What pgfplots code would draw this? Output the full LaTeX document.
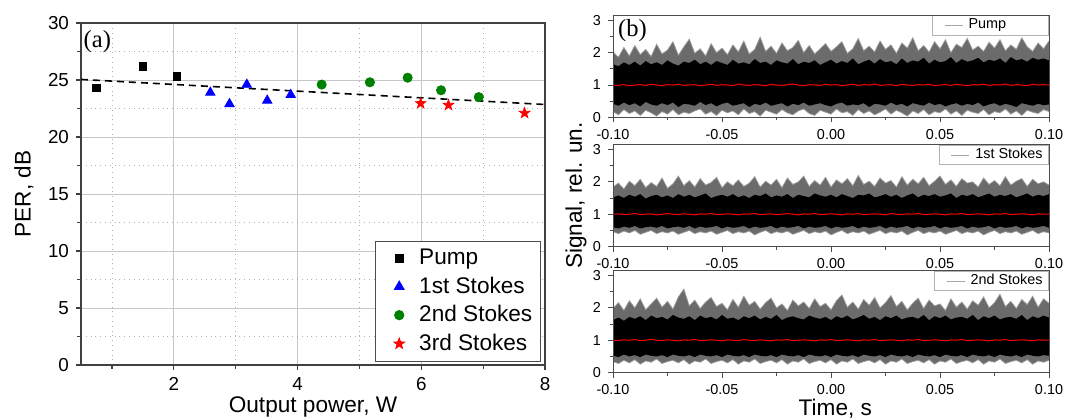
\documentclass[border=0pt]{standalone}
\usepackage{fontspec}
\setmainfont{Liberation Sans}
\newfontfamily\timesfont{Liberation Serif}
\usepackage{pgfplots}
\pgfplotsset{compat=1.18}
\usepackage{pgfplotstable}
\usepgfplotslibrary{fillbetween}

\definecolor{ogreen}{RGB}{0,128,0}

% filled five-pointed star
\pgfdeclareplotmark{fstar}{%
  \pgfpathmoveto{\pgfpointpolar{90}{1.3\pgfplotmarksize}}%
  \pgfpathlineto{\pgfpointpolar{126}{0.52\pgfplotmarksize}}%
  \pgfpathlineto{\pgfpointpolar{162}{1.3\pgfplotmarksize}}%
  \pgfpathlineto{\pgfpointpolar{198}{0.52\pgfplotmarksize}}%
  \pgfpathlineto{\pgfpointpolar{234}{1.3\pgfplotmarksize}}%
  \pgfpathlineto{\pgfpointpolar{270}{0.52\pgfplotmarksize}}%
  \pgfpathlineto{\pgfpointpolar{306}{1.3\pgfplotmarksize}}%
  \pgfpathlineto{\pgfpointpolar{342}{0.52\pgfplotmarksize}}%
  \pgfpathlineto{\pgfpointpolar{18}{1.3\pgfplotmarksize}}%
  \pgfpathlineto{\pgfpointpolar{54}{0.52\pgfplotmarksize}}%
  \pgfpathclose
  \pgfusepathqfillstroke
}

% noise envelopes: outer spikes (ohi/olo), dense core (ihi/ilo), running mean r
\pgfplotstableread{
t ohi ihi ilo olo r
-0.1000 2.02 1.64 0.42 0.18 1.00
-0.0975 1.86 1.58 0.36 0.08 0.99
-0.0950 2.16 1.70 0.46 0.24 1.01
-0.0925 1.90 1.62 0.38 0.12 0.98
-0.0900 2.22 1.72 0.44 0.20 1.00
-0.0875 1.94 1.60 0.34 0.06 1.01
-0.0850 2.10 1.74 0.48 0.22 0.99
-0.0825 1.88 1.64 0.40 0.14 1.02
-0.0800 2.26 1.70 0.36 0.04 1.00
-0.0775 1.96 1.62 0.44 0.18 0.98
-0.0750 2.08 1.76 0.38 0.10 1.01
-0.0725 2.34 1.66 0.46 0.24 1.00
-0.0700 1.92 1.60 0.32 0.08 1.02
-0.0675 2.18 1.72 0.42 0.16 0.99
-0.0650 2.42 1.68 0.40 0.12 1.00
-0.0625 1.98 1.78 0.36 0.20 1.01
-0.0600 2.12 1.64 0.48 0.26 0.98
-0.0575 1.90 1.72 0.38 0.10 1.00
-0.0550 2.28 1.62 0.44 0.18 1.02
-0.0525 2.00 1.74 0.34 0.06 0.99
-0.0500 2.14 1.68 0.42 0.22 1.01
-0.0475 1.94 1.62 0.46 0.14 1.00
-0.0450 2.24 1.78 0.36 0.20 0.98
-0.0425 2.02 1.66 0.40 0.08 1.03
-0.0400 2.36 1.70 0.44 0.26 1.00
-0.0375 1.96 1.64 0.32 0.12 0.99
-0.0350 2.10 1.80 0.42 0.18 1.01
-0.0325 2.48 1.68 0.38 0.04 1.00
-0.0300 2.04 1.72 0.46 0.22 0.98
-0.0275 2.20 1.62 0.36 0.16 1.02
-0.0250 1.98 1.76 0.40 0.10 1.00
-0.0225 2.30 1.70 0.44 0.24 0.99
-0.0200 2.06 1.66 0.34 0.14 1.01
-0.0175 2.16 1.80 0.42 0.08 1.03
-0.0150 2.38 1.64 0.38 0.20 1.00
-0.0125 2.00 1.72 0.46 0.26 0.98
-0.0100 2.22 1.68 0.36 0.12 1.01
-0.0075 1.96 1.76 0.40 0.06 1.00
-0.0050 2.12 1.62 0.44 0.22 0.99
-0.0025 2.28 1.70 0.38 0.16 1.02
0.0000 2.04 1.78 0.34 0.10 1.00
0.0025 2.18 1.66 0.42 0.26 1.01
0.0050 2.34 1.74 0.46 0.14 0.98
0.0075 1.98 1.68 0.36 0.18 1.00
0.0100 2.12 1.82 0.40 0.06 1.02
0.0125 2.44 1.64 0.38 0.24 0.99
0.0150 2.06 1.72 0.44 0.12 1.01
0.0175 2.20 1.78 0.32 0.20 1.00
0.0200 2.02 1.66 0.42 0.08 1.03
0.0225 2.36 1.80 0.40 0.16 0.99
0.0250 2.10 1.70 0.36 0.26 1.00
0.0275 2.24 1.74 0.46 0.10 1.01
0.0300 1.98 1.64 0.38 0.22 0.98
0.0325 2.30 1.82 0.42 0.14 1.02
0.0350 2.14 1.68 0.34 0.04 1.00
0.0375 2.46 1.76 0.44 0.20 0.99
0.0400 2.06 1.72 0.40 0.12 1.01
0.0425 2.22 1.84 0.36 0.24 1.00
0.0450 2.02 1.66 0.46 0.08 1.02
0.0475 2.34 1.78 0.38 0.18 0.98
0.0500 2.12 1.70 0.42 0.14 1.00
0.0525 2.40 1.74 0.34 0.26 1.01
0.0550 2.00 1.86 0.40 0.10 0.99
0.0575 2.26 1.68 0.44 0.20 1.02
0.0600 2.16 1.80 0.36 0.06 1.00
0.0625 2.44 1.72 0.42 0.22 0.98
0.0650 2.08 1.76 0.38 0.16 1.01
0.0675 2.20 1.84 0.46 0.12 1.00
0.0700 2.04 1.70 0.34 0.24 1.02
0.0725 2.32 1.78 0.40 0.08 0.99
0.0750 2.14 1.74 0.44 0.18 1.01
0.0775 2.40 1.82 0.36 0.14 1.00
0.0800 2.06 1.68 0.42 0.26 1.03
0.0825 2.24 1.86 0.38 0.10 0.99
0.0850 2.10 1.76 0.32 0.20 1.01
0.0875 2.46 1.80 0.44 0.06 1.00
0.0900 2.18 1.72 0.40 0.22 0.98
0.0925 2.04 1.84 0.36 0.16 1.02
0.0950 2.30 1.78 0.42 0.12 1.00
0.0975 2.12 1.82 0.38 0.24 1.01
0.1000 2.36 1.76 0.40 0.18 1.00
}\pumpdata

\pgfplotstableread{
t ohi ihi ilo olo r
-0.1000 1.84 1.52 0.60 0.46 1.00
-0.0975 1.96 1.58 0.56 0.40 1.01
-0.0950 1.78 1.50 0.62 0.48 0.99
-0.0925 2.02 1.60 0.58 0.42 1.00
-0.0900 1.88 1.54 0.64 0.50 1.02
-0.0875 2.08 1.62 0.56 0.38 0.99
-0.0850 1.82 1.48 0.60 0.44 1.00
-0.0825 1.98 1.56 0.62 0.50 1.01
-0.0800 1.86 1.60 0.58 0.40 0.98
-0.0775 2.12 1.52 0.64 0.46 1.00
-0.0750 1.80 1.58 0.56 0.42 1.02
-0.0725 1.94 1.50 0.60 0.48 1.00
-0.0700 2.18 1.62 0.62 0.38 0.99
-0.0675 1.88 1.54 0.58 0.44 1.01
-0.0650 2.04 1.60 0.64 0.50 1.00
-0.0625 1.84 1.52 0.56 0.40 0.98
-0.0600 2.10 1.58 0.62 0.46 1.01
-0.0575 1.90 1.64 0.58 0.42 1.00
-0.0550 1.98 1.50 0.60 0.48 1.02
-0.0525 2.14 1.56 0.64 0.38 0.99
-0.0500 1.82 1.60 0.56 0.44 1.00
-0.0475 2.00 1.54 0.62 0.50 1.01
-0.0450 1.88 1.62 0.58 0.40 1.00
-0.0425 2.06 1.52 0.60 0.46 0.98
-0.0400 1.86 1.58 0.64 0.42 1.01
-0.0375 1.96 1.50 0.56 0.48 1.00
-0.0350 2.16 1.60 0.62 0.36 1.02
-0.0325 1.84 1.56 0.58 0.44 0.99
-0.0300 2.02 1.64 0.60 0.50 1.00
-0.0275 1.90 1.52 0.64 0.40 1.01
-0.0250 2.08 1.58 0.56 0.46 0.99
-0.0225 1.82 1.54 0.62 0.42 1.00
-0.0200 2.12 1.62 0.58 0.48 1.02
-0.0175 1.92 1.50 0.60 0.38 1.00
-0.0150 2.00 1.60 0.64 0.44 0.98
-0.0125 2.18 1.56 0.56 0.50 1.01
-0.0100 1.86 1.52 0.62 0.40 1.00
-0.0075 2.04 1.64 0.58 0.46 1.02
-0.0050 1.90 1.58 0.60 0.42 0.99
-0.0025 2.14 1.54 0.64 0.48 1.00
0.0000 1.84 1.60 0.56 0.36 1.01
0.0025 2.06 1.52 0.62 0.44 1.00
0.0050 1.94 1.62 0.58 0.50 0.98
0.0075 2.10 1.56 0.60 0.40 1.01
0.0100 1.88 1.50 0.64 0.46 1.00
0.0125 2.20 1.60 0.56 0.42 1.02
0.0150 1.92 1.58 0.62 0.48 0.99
0.0175 2.02 1.64 0.58 0.38 1.00
0.0200 1.86 1.52 0.60 0.44 1.01
0.0225 2.12 1.56 0.64 0.50 1.00
0.0250 1.96 1.62 0.56 0.40 0.98
0.0275 2.04 1.54 0.62 0.46 1.02
0.0300 1.84 1.60 0.58 0.42 1.00
0.0325 2.16 1.50 0.60 0.48 0.99
0.0350 1.90 1.58 0.64 0.36 1.01
0.0375 2.08 1.64 0.56 0.44 1.00
0.0400 1.94 1.52 0.62 0.50 1.02
0.0425 2.14 1.60 0.58 0.40 0.99
0.0450 1.88 1.56 0.60 0.46 1.00
0.0475 2.02 1.62 0.64 0.42 1.01
0.0500 2.18 1.54 0.56 0.48 1.00
0.0525 1.92 1.58 0.62 0.38 0.98
0.0550 2.06 1.64 0.58 0.44 1.01
0.0575 1.86 1.50 0.60 0.50 1.00
0.0600 2.10 1.60 0.64 0.40 1.02
0.0625 1.96 1.56 0.56 0.46 0.99
0.0650 2.00 1.62 0.62 0.42 1.00
0.0675 1.84 1.52 0.58 0.48 1.01
0.0700 2.12 1.58 0.60 0.36 1.00
0.0725 1.92 1.64 0.64 0.44 0.98
0.0750 2.04 1.54 0.56 0.50 1.01
0.0775 1.88 1.60 0.62 0.40 1.00
0.0800 2.16 1.56 0.58 0.46 1.02
0.0825 1.90 1.62 0.60 0.42 0.99
0.0850 2.02 1.52 0.64 0.48 1.00
0.0875 2.10 1.58 0.56 0.38 1.01
0.0900 1.86 1.64 0.62 0.44 1.00
0.0925 2.08 1.54 0.58 0.50 0.98
0.0950 1.94 1.60 0.60 0.40 1.01
0.0975 2.00 1.56 0.64 0.46 1.00
0.1000 1.90 1.62 0.58 0.42 1.00
}\firstdata

\pgfplotstableread{
t ohi ihi ilo olo r
-0.1000 1.98 1.62 0.52 0.34 1.00
-0.0975 2.16 1.70 0.48 0.28 0.99
-0.0950 1.92 1.60 0.56 0.38 1.01
-0.0925 2.22 1.72 0.50 0.30 1.00
-0.0900 2.00 1.66 0.54 0.40 1.02
-0.0875 2.28 1.74 0.48 0.26 0.99
-0.0850 1.94 1.62 0.56 0.36 1.00
-0.0825 2.12 1.76 0.52 0.32 1.03
-0.0800 2.30 1.68 0.50 0.42 1.00
-0.0775 2.02 1.72 0.54 0.28 0.99
-0.0750 2.20 1.64 0.48 0.34 1.01
-0.0725 1.96 1.78 0.56 0.38 1.00
-0.0700 2.34 1.70 0.52 0.30 0.98
-0.0675 2.58 1.66 0.50 0.40 1.01
-0.0650 2.06 1.74 0.54 0.26 1.00
-0.0625 2.24 1.62 0.48 0.36 1.02
-0.0600 1.98 1.76 0.56 0.32 0.99
-0.0575 2.18 1.68 0.52 0.42 1.00
-0.0550 2.32 1.72 0.50 0.28 1.01
-0.0525 2.04 1.64 0.54 0.34 1.00
-0.0500 2.14 1.78 0.48 0.38 0.98
-0.0475 1.94 1.66 0.56 0.30 1.01
-0.0450 2.26 1.70 0.52 0.40 1.00
-0.0425 2.02 1.62 0.50 0.26 0.99
-0.0400 2.36 1.74 0.54 0.36 1.02
-0.0375 2.08 1.68 0.48 0.32 1.00
-0.0350 2.20 1.76 0.56 0.42 0.99
-0.0325 1.96 1.64 0.52 0.28 1.01
-0.0300 2.16 1.72 0.50 0.34 1.00
-0.0275 2.30 1.66 0.54 0.38 0.98
-0.0250 2.00 1.78 0.48 0.30 1.01
-0.0225 2.12 1.62 0.56 0.40 1.00
-0.0200 1.92 1.70 0.52 0.26 1.02
-0.0175 2.24 1.74 0.50 0.36 0.99
-0.0150 2.06 1.68 0.54 0.32 1.00
-0.0125 2.18 1.64 0.48 0.42 1.01
-0.0100 1.98 1.76 0.56 0.28 1.00
-0.0075 2.28 1.70 0.52 0.34 0.98
-0.0050 2.04 1.66 0.50 0.38 1.01
-0.0025 2.14 1.72 0.54 0.30 1.00
0.0000 1.94 1.62 0.48 0.40 1.02
0.0025 2.22 1.74 0.56 0.26 0.99
0.0050 2.40 1.68 0.52 0.36 1.00
0.0075 2.02 1.76 0.50 0.32 1.01
0.0100 2.18 1.64 0.54 0.42 1.00
0.0125 1.96 1.70 0.48 0.28 0.98
0.0150 2.26 1.78 0.56 0.34 1.01
0.0175 2.08 1.66 0.52 0.38 1.00
0.0200 2.32 1.72 0.50 0.30 1.02
0.0225 2.00 1.62 0.54 0.40 0.99
0.0250 2.16 1.74 0.48 0.26 1.00
0.0275 2.38 1.68 0.56 0.36 1.01
0.0300 2.04 1.76 0.52 0.32 1.00
0.0325 2.20 1.64 0.50 0.42 0.98
0.0350 1.94 1.70 0.54 0.28 1.01
0.0375 2.14 1.72 0.48 0.34 1.00
0.0400 2.30 1.66 0.56 0.38 1.02
0.0425 1.98 1.78 0.52 0.30 0.99
0.0450 2.24 1.62 0.50 0.40 1.00
0.0475 2.06 1.74 0.54 0.26 1.01
0.0500 2.12 1.68 0.48 0.36 1.00
0.0525 1.92 1.76 0.56 0.32 0.98
0.0550 2.28 1.64 0.52 0.42 1.01
0.0575 2.02 1.70 0.50 0.28 1.00
0.0600 2.18 1.72 0.54 0.34 1.02
0.0625 1.96 1.66 0.48 0.38 0.99
0.0650 2.22 1.78 0.56 0.30 1.00
0.0675 2.08 1.62 0.52 0.40 1.01
0.0700 2.34 1.74 0.50 0.26 1.00
0.0725 2.00 1.68 0.54 0.36 0.98
0.0750 2.16 1.76 0.48 0.32 1.01
0.0775 2.42 1.64 0.56 0.42 1.00
0.0800 2.04 1.70 0.52 0.28 1.02
0.0825 2.20 1.72 0.50 0.34 0.99
0.0850 1.98 1.66 0.54 0.38 1.00
0.0875 2.26 1.78 0.48 0.30 1.01
0.0900 2.10 1.62 0.56 0.40 1.00
0.0925 2.36 1.74 0.52 0.26 0.98
0.0950 2.02 1.68 0.50 0.36 1.01
0.0975 2.28 1.76 0.54 0.32 1.00
0.1000 2.14 1.70 0.52 0.38 1.00
}\seconddata

\pgfplotsset{
  sigpanel/.style={
    scale only axis, width=218pt, height=51pt,
    xmin=-0.1, xmax=0.1, ymin=0, ymax=3.15,
    xtick={-0.1,-0.05,0,0.05,0.1}, minor x tick num=1,
    ytick={0,1,2,3}, minor y tick num=1,
    scaled x ticks=false,
    tick align=outside, xtick pos=bottom, ytick pos=left,
    major tick length=2.5pt, minor tick length=1.5pt,
    xticklabel style={/pgf/number format/.cd, fixed, fixed zerofill, precision=2, assume math mode=true},
    yticklabel style={/pgf/number format/assume math mode=true},
    ticklabel style={font=\fontsize{7.2}{8}\selectfont},
    axis line style={black!70, line width=0.5pt},
    tick style={black!70, line width=0.5pt},
    legend style={at={(1,1)}, anchor=north east, draw=black!30, line width=0.4pt,
      font=\fontsize{7.2}{8}\selectfont, inner xsep=1pt, inner ysep=0pt,
      nodes={inner ysep=1.6pt}},
    legend image code/.code={\path[draw=none, fill=none] (0pt,0pt) -- (15pt,0pt);
      \draw[#1] (5pt,0pt) -- (14pt,0pt);},
    axis on top,
  },
  outerband/.style={black!58, forget plot},
  spikeline/.style={draw=black!38, line width=0.35pt, forget plot},
}

\begin{document}
\begin{tikzpicture}

% (a) PER versus output power
\begin{axis}[
  at={(40.5pt,26.5pt)}, anchor=south west,
  scale only axis, width=232pt, height=171pt,
  xmin=0.5, xmax=8, ymin=0, ymax=30,
  xtick={2,4,6,8}, minor xtick={1,3,5,7},
  ytick={0,5,...,30}, minor ytick={2.5,7.5,...,27.5},
  grid=both,
  major grid style={black!22, line width=0.5pt},
  minor grid style={black!30, dotted, line width=0.4pt},
  tick align=outside, xtick pos=bottom, ytick pos=left,
  major tick length=2.5pt, minor tick length=1.8pt,
  axis line style={black!75, line width=0.75pt},
  tick style={black!75, line width=0.6pt},
  ticklabel style={font=\fontsize{9.4}{10}\selectfont, /pgf/number format/assume math mode=true},
  xlabel={Output power, W}, ylabel={PER, dB},
  label style={font=\fontsize{11.3}{12}\selectfont},
  xlabel style={at={(axis description cs:0.5,-0.123)}, anchor=center},
  ylabel style={at={(axis description cs:-0.123,0.5)}, anchor=center},
  legend style={at={(0.991,0.009)}, anchor=south east, draw=black!70, line width=0.5pt,
    font=\fontsize{11.3}{13.5}\selectfont, row sep=0.6pt, inner xsep=2pt},
  legend cell align=left,
  legend image code/.code={\path[draw=none, fill=none] (0pt,0pt) -- (18pt,0pt);
    \draw[#1, only marks] plot coordinates {(10pt,0pt)};},
]
\addplot[black, dashed, dash pattern=on 3.5pt off 2.5pt, line width=0.8pt, forget plot]
  coordinates {(0.5,25.05) (8,22.85)};
\addplot[only marks, mark=square*, mark size=1.9pt, black] coordinates {
  (0.75,24.3) (1.50,26.2) (2.05,25.3)
};
\addlegendentry{Pump}
\addplot[only marks, mark=triangle*, mark size=2.7pt, blue] coordinates {
  (2.59,23.9) (2.90,22.9) (3.18,24.6) (3.51,23.2) (3.89,23.7)
};
\addlegendentry{1st Stokes}
\addplot[only marks, mark=*, mark size=2.3pt, ogreen] coordinates {
  (4.39,24.6) (5.17,24.8) (5.78,25.2) (6.32,24.1) (6.93,23.5)
};
\addlegendentry{2nd Stokes}
\addplot[only marks, mark=fstar, mark size=2.1pt, red] coordinates {
  (5.99,22.95) (6.44,22.8) (7.67,22.1)
};
\addlegendentry{3rd Stokes}
\node[anchor=north west, inner sep=0pt, font=\timesfont\fontsize{12.3}{13}\selectfont]
  at (axis description cs:0.005,0.978) {(a)};
\end{axis}

% (b) time traces, top: pump
\begin{axis}[sigpanel, at={(306.5pt,150.3pt)}, anchor=south west]
\addplot[spikeline, name path=pA] table[x=t, y=ohi] {\pumpdata};
\addplot[spikeline, name path=pB] table[x=t, y=olo] {\pumpdata};
\addplot[outerband] fill between[of=pA and pB];
\addplot[draw=none, name path=pC, forget plot] table[x=t, y=ihi] {\pumpdata};
\addplot[draw=none, name path=pD, forget plot] table[x=t, y=ilo] {\pumpdata};
\addplot[black, forget plot] fill between[of=pC and pD];
\addplot[red, line width=0.5pt, forget plot] table[x=t, y=r] {\pumpdata};
\addlegendimage{black!35, line width=0.3pt}
\addlegendentry{\makebox[37pt][l]{Pump}}
\node[anchor=north west, inner sep=0pt, font=\timesfont\fontsize{12.3}{13}\selectfont]
  at (axis description cs:0.011,0.96) {(b)};
\end{axis}

% middle: 1st Stokes
\begin{axis}[sigpanel, at={(306.5pt,85.7pt)}, anchor=south west,
  ylabel={Signal, rel. un.},
  ylabel style={font=\fontsize{11.3}{12}\selectfont, at={(axis description cs:-0.085,0.5)}, anchor=center}]
\addplot[spikeline, name path=fA] table[x=t, y=ohi] {\firstdata};
\addplot[spikeline, name path=fB] table[x=t, y=olo] {\firstdata};
\addplot[outerband] fill between[of=fA and fB];
\addplot[draw=none, name path=fC, forget plot] table[x=t, y=ihi] {\firstdata};
\addplot[draw=none, name path=fD, forget plot] table[x=t, y=ilo] {\firstdata};
\addplot[black, forget plot] fill between[of=fC and fD];
\addplot[red, line width=0.5pt, forget plot] table[x=t, y=r] {\firstdata};
\addlegendimage{black!35, line width=0.3pt}
\addlegendentry{1st Stokes}
\end{axis}

% bottom: 2nd Stokes
\begin{axis}[sigpanel, at={(306.5pt,22.7pt)}, anchor=south west,
  xlabel={Time, s},
  xlabel style={font=\fontsize{11.3}{12}\selectfont, at={(axis description cs:0.51,-0.35)}, anchor=center}]
\addplot[spikeline, name path=sA] table[x=t, y=ohi] {\seconddata};
\addplot[spikeline, name path=sB] table[x=t, y=olo] {\seconddata};
\addplot[outerband] fill between[of=sA and sB];
\addplot[draw=none, name path=sC, forget plot] table[x=t, y=ihi] {\seconddata};
\addplot[draw=none, name path=sD, forget plot] table[x=t, y=ilo] {\seconddata};
\addplot[black, forget plot] fill between[of=sC and sD];
\addplot[red, line width=0.5pt, forget plot] table[x=t, y=r] {\seconddata};
\addlegendimage{black!35, line width=0.3pt}
\addlegendentry{2nd Stokes}
\end{axis}

\pgfresetboundingbox
\path[use as bounding box] (0,0) rectangle (532.5pt,209pt);
\end{tikzpicture}
\end{document}
